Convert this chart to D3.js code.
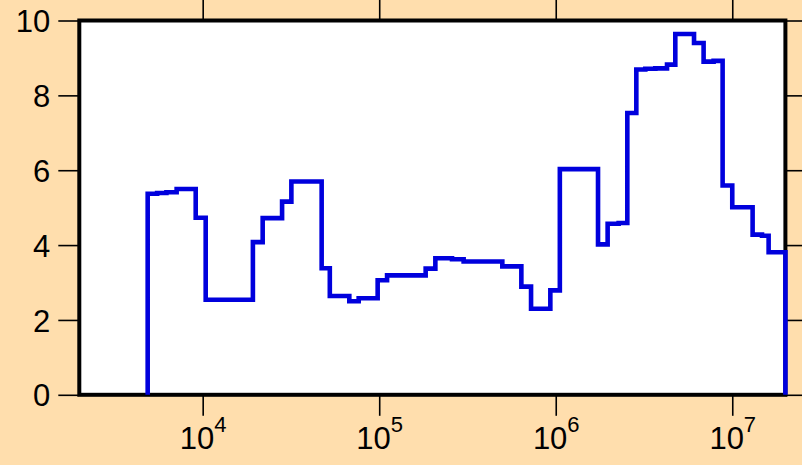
<!DOCTYPE html>
<html>
<head>
<meta charset="utf-8">
<script src="https://cdn.jsdelivr.net/npm/d3@7"></script>
<style>
  html, body { margin: 0; padding: 0; background: #FFDEAD; }
  svg { display: block; }
  text { font-family: "Liberation Sans", Arial, Helvetica, sans-serif; fill: #000; }
</style>
</head>
<body>
<svg id="chart" width="802" height="465"></svg>
<script>
// ---- data ----
const binEdges = [4880, 5520, 6230, 7120, 9130, 10400, 19250, 21870, 28170, 31800,
  47200, 52500, 67700, 76500, 98000, 110800, 183300, 208000, 258500, 300800,
  498200, 638600, 724700, 932000, 1.055e6, 1.736e6, 1.968e6, 2.272e6, 2.544e6, 2.861e6,
  3.217e6, 3.666e6, 4.270e6, 4.757e6, 6.073e6, 6.881e6, 7.84e6, 8.818e6, 1.0e7, 1.304e7,
  1.474e7, 1.607e7, 2.0e7];
const binValues = [5.37, 5.39, 5.41, 5.50, 4.73, 2.54, 4.08, 4.72, 5.16, 5.70,
  3.38, 2.64, 2.50, 2.58, 3.06, 3.19, 3.37, 3.65, 3.62, 3.56,
  3.43, 2.89, 2.30, 2.79, 6.03, 4.02, 4.57, 4.59, 7.53, 8.69,
  8.71, 8.72, 8.82, 9.64, 9.40, 8.90, 8.92, 5.59, 5.01, 4.28,
  4.25, 3.81];
const xTicks = [1e4, 1e5, 1e6, 1e7];
const xTickExp = ["4", "5", "6", "7"];
const yTicks = [0, 2, 4, 6, 8, 10];

// ---- layout ----
const pLeft = 79.3, pRight = 785.4, pTop = 20.5, pBottom = 394.8;
const svg = d3.select("#chart");

const x = d3.scaleLog().domain([2e3, 2e7]).range([pLeft, pRight]);
const y = d3.scaleLinear().domain([0, 10]).range([pBottom, pTop]);

// plot background
svg.append("rect")
  .attr("x", pLeft).attr("y", pTop)
  .attr("width", pRight - pLeft).attr("height", pBottom - pTop)
  .attr("fill", "#fff");

function styleAxis(g) {
  g.select(".domain").remove();
  g.selectAll(".tick line").attr("stroke", "#000").attr("stroke-width", 1.6);
}

// y axis left with labels
const gyl = svg.append("g").attr("transform", `translate(${pLeft},0)`)
  .call(d3.axisLeft(y).tickValues(yTicks).tickSize(21).tickPadding(0).tickFormat(d3.format("d")));
styleAxis(gyl);
gyl.selectAll(".tick text")
  .attr("x", -29)
  .attr("dy", "0.36em")
  .attr("font-size", 31)
  .attr("text-anchor", "end");

// y axis right, no labels
const gyr = svg.append("g").attr("transform", `translate(${pRight},0)`)
  .call(d3.axisRight(y).tickValues(yTicks).tickSize(20).tickFormat(""));
styleAxis(gyr);

// x axis top, no labels
const gxt = svg.append("g").attr("transform", `translate(0,${pTop})`)
  .call(d3.axisTop(x).tickValues(xTicks).tickSize(21).tickFormat(""));
styleAxis(gxt);

// x axis bottom with superscript labels
const gxb = svg.append("g").attr("transform", `translate(0,${pBottom})`)
  .call(d3.axisBottom(x).tickValues(xTicks).tickSize(21).tickFormat(""));
styleAxis(gxb);
gxb.selectAll(".tick text").remove();
gxb.selectAll(".tick").each(function(d, i) {
  const t = d3.select(this).append("text")
    .attr("y", 54)
    .attr("text-anchor", "middle");
  t.append("tspan").attr("font-size", 31).text("10");
  t.append("tspan").attr("font-size", 22).attr("dy", -17).text(xTickExp[i]);
});

// frame
svg.append("rect")
  .attr("x", pLeft).attr("y", pTop)
  .attr("width", pRight - pLeft).attr("height", pBottom - pTop)
  .attr("fill", "none")
  .attr("stroke", "#000")
  .attr("stroke-width", 4);

// histogram step line
const pts = [[binEdges[0], 0]];
binValues.forEach((v, i) => {
  pts.push([binEdges[i], v]);
  pts.push([binEdges[i + 1], v]);
});
pts.push([binEdges[binEdges.length - 1], 0]);

const line = d3.line().x(d => x(d[0])).y(d => y(d[1]));
svg.append("path")
  .attr("d", line(pts))
  .attr("fill", "none")
  .attr("stroke", "#0000dd")
  .attr("stroke-width", 4.6)
  .attr("stroke-linejoin", "miter")
  .attr("stroke-linecap", "butt");
</script>
</body>
</html>
